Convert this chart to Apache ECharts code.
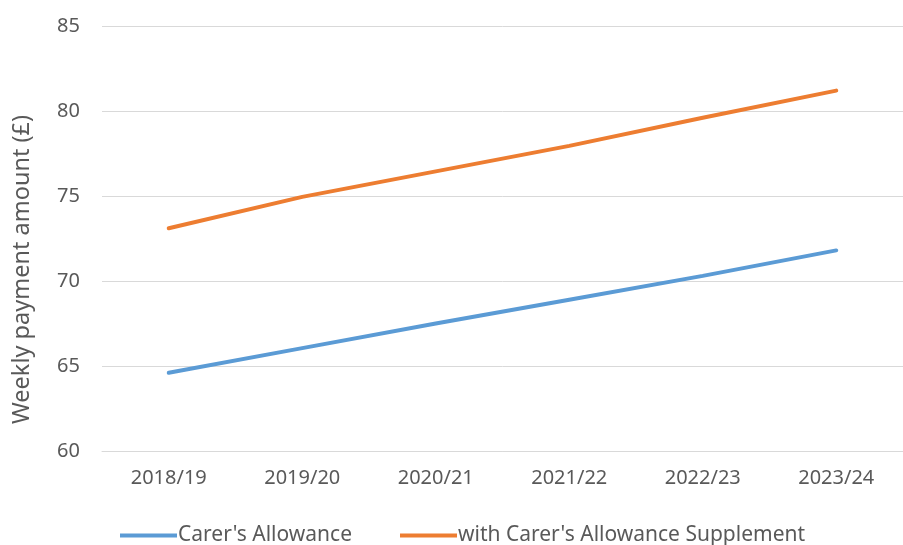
<!DOCTYPE html>
<html>
<head>
<meta charset="utf-8">
<script src="https://cdn.jsdelivr.net/npm/echarts@6/dist/echarts.min.js"></script>
<style>
html,body{margin:0;padding:0;background:#fff;}
#chart{width:903px;height:545px;}
</style>
</head>
<body>
<div id="chart"></div>
<script>
const categories = ['2018/19', '2019/20', '2020/21', '2021/22', '2022/23', '2023/24'];
const carersAllowance = [64.6, 66.05, 67.5, 68.9, 70.3, 71.8];
const withSupplement = [73.1, 74.95, 76.45, 77.95, 79.6, 81.2];
const seriesNames = ["Carer's Allowance", "with Carer's Allowance Supplement"];
const yAxisTitle = 'Weekly payment amount (£)';

const FONT = '"Noto Sans", "Open Sans", sans-serif';
const TXT = '#595959';

const chart = echarts.init(document.getElementById('chart'), null, {renderer: 'canvas'});
chart.setOption({
  backgroundColor: '#ffffff',
  animation: false,
  color: ['#5B9BD5', '#ED7D31'],
  grid: {left: 102, right: -9, top: 26, bottom: 94, containLabel: false},
  legend: {
    left: 120, top: 525, padding: 0,
    itemWidth: 57, itemHeight: 4, itemGap: 48,
    icon: 'rect',
    textStyle: {color: TXT, fontFamily: FONT, fontSize: 21, padding: [0, 0, 0, -4]},
    data: seriesNames
  },
  xAxis: {
    type: 'category',
    data: categories,
    boundaryGap: true,
    axisLine: {show: true, lineStyle: {color: '#D9D9D9', width: 1}},
    axisTick: {show: false},
    axisLabel: {color: TXT, fontFamily: FONT, fontSize: 20, margin: 17}
  },
  yAxis: {
    type: 'value',
    min: 60, max: 85, interval: 5,
    name: yAxisTitle,
    nameLocation: 'middle',
    nameGap: 68,
    nameRotate: 90,
    nameTextStyle: {color: TXT, fontFamily: FONT, fontSize: 23.5, padding: [0, 62, 0, 0]},
    axisLine: {show: false},
    axisTick: {show: false},
    axisLabel: {color: TXT, fontFamily: FONT, fontSize: 20, margin: 22},
    splitLine: {show: true, lineStyle: {color: '#D9D9D9', width: 1}}
  },
  series: [
    {
      name: seriesNames[0], type: 'line', data: carersAllowance,
      symbol: 'none', smooth: false,
      lineStyle: {width: 4, cap: 'round', color: '#5B9BD5'}
    },
    {
      name: seriesNames[1], type: 'line', data: withSupplement,
      symbol: 'none', smooth: false,
      lineStyle: {width: 4, cap: 'round', color: '#ED7D31'}
    }
  ]
});
</script>
</body>
</html>
